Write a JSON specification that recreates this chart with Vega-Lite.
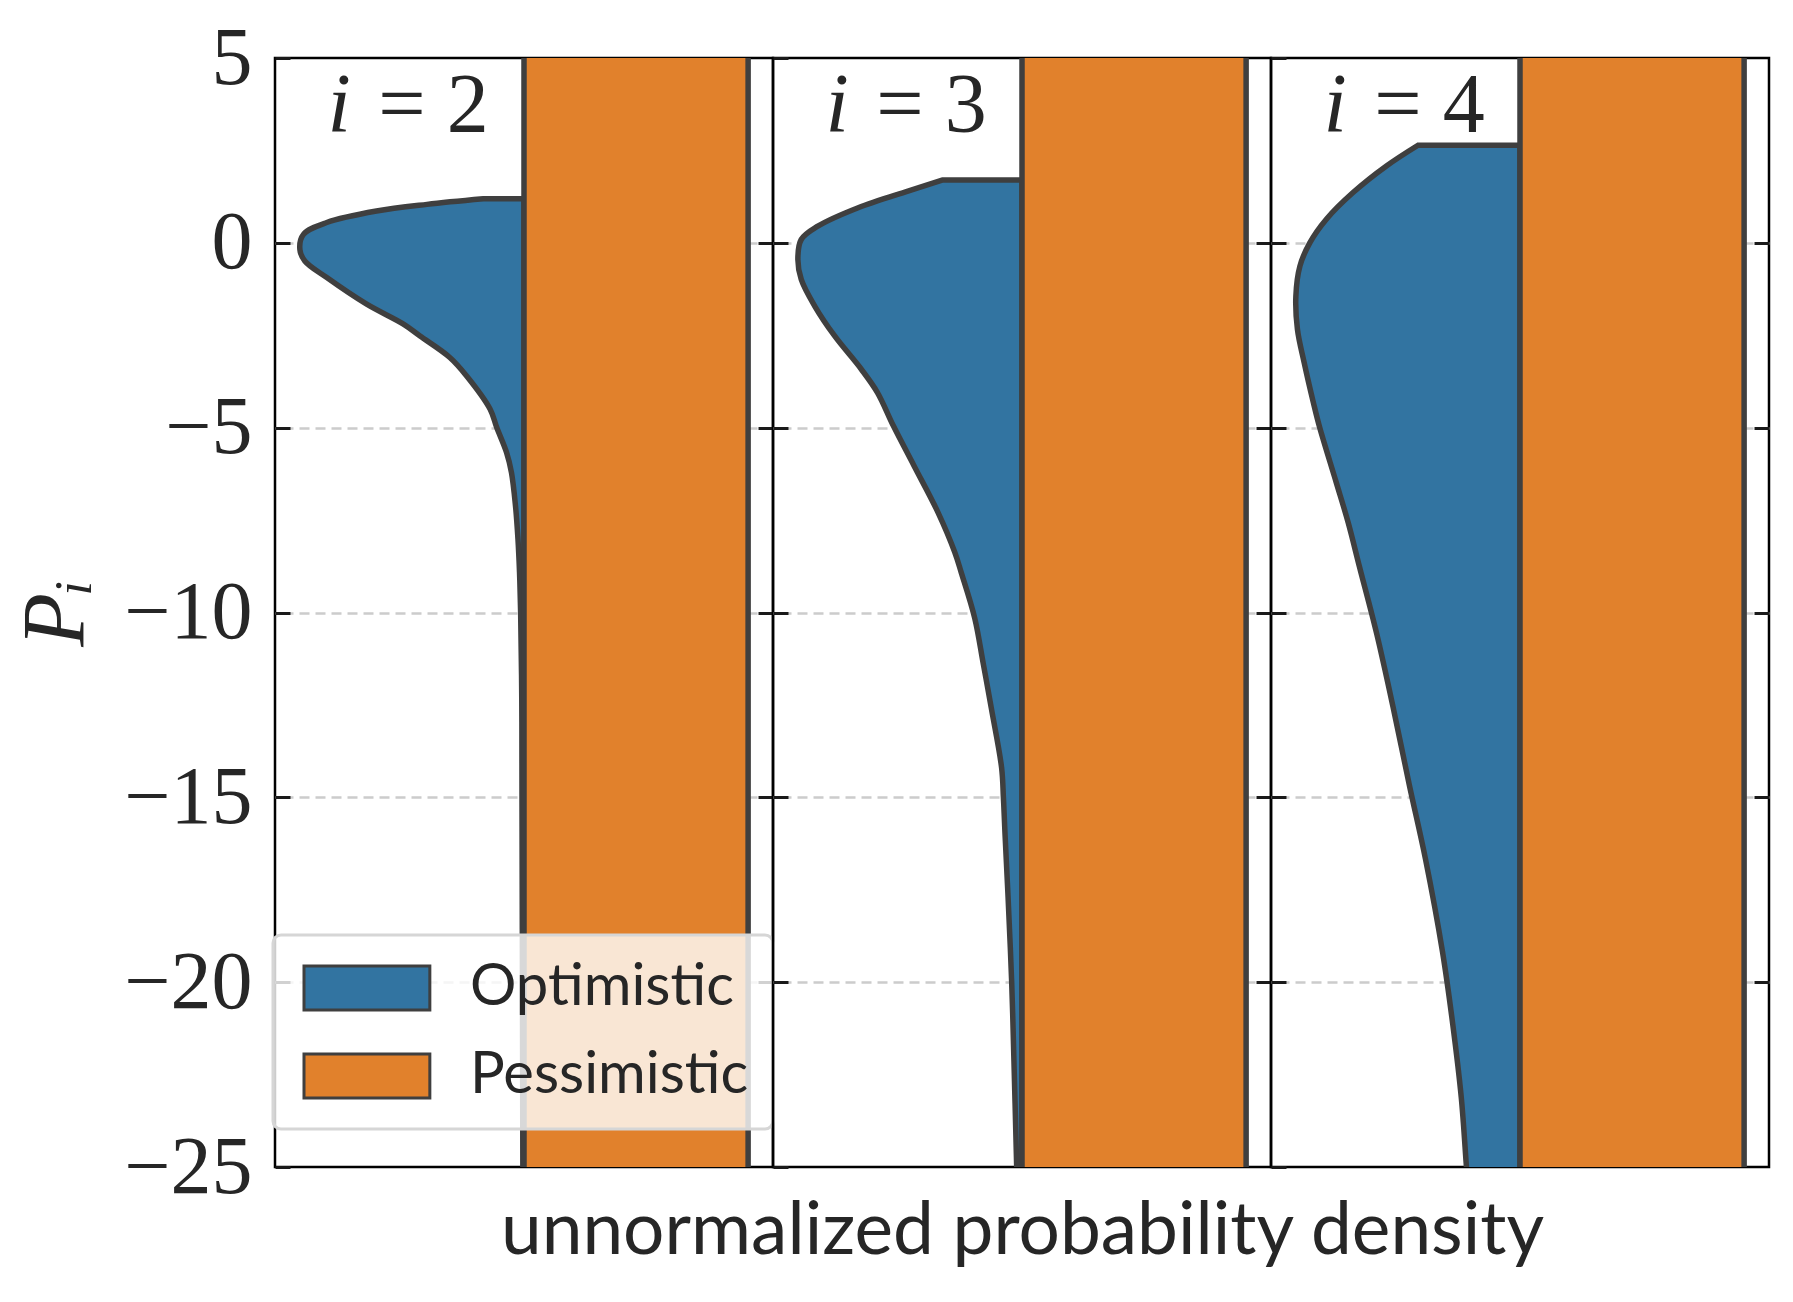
{
  "$schema": "https://vega.github.io/schema/vega-lite/v6.json",
  "background": "white",
  "padding": {"left": 11, "top": 15, "right": 22, "bottom": 30},
  "spacing": 0,
  "bounds": "flush",
  "datasets": {
    "opt": [
      {"panel": "2", "hue": "Optimistic", "P": 1.19, "density": 0.182},
      {"panel": "2", "hue": "Optimistic", "P": 1.04, "density": 0.433},
      {"panel": "2", "hue": "Optimistic", "P": 0.86, "density": 0.658},
      {"panel": "2", "hue": "Optimistic", "P": 0.55, "density": 0.880},
      {"panel": "2", "hue": "Optimistic", "P": 0.23, "density": 0.984},
      {"panel": "2", "hue": "Optimistic", "P": -0.18, "density": 1.0},
      {"panel": "2", "hue": "Optimistic", "P": -0.49, "density": 0.978},
      {"panel": "2", "hue": "Optimistic", "P": -0.94, "density": 0.880},
      {"panel": "2", "hue": "Optimistic", "P": -1.66, "density": 0.702},
      {"panel": "2", "hue": "Optimistic", "P": -2.20, "density": 0.538},
      {"panel": "2", "hue": "Optimistic", "P": -2.52, "density": 0.464},
      {"panel": "2", "hue": "Optimistic", "P": -3.10, "density": 0.331},
      {"panel": "2", "hue": "Optimistic", "P": -3.60, "density": 0.256},
      {"panel": "2", "hue": "Optimistic", "P": -4.50, "density": 0.151},
      {"panel": "2", "hue": "Optimistic", "P": -4.99, "density": 0.122},
      {"panel": "2", "hue": "Optimistic", "P": -5.67, "density": 0.078},
      {"panel": "2", "hue": "Optimistic", "P": -6.21, "density": 0.056},
      {"panel": "2", "hue": "Optimistic", "P": -7.11, "density": 0.038},
      {"panel": "2", "hue": "Optimistic", "P": -8.01, "density": 0.027},
      {"panel": "2", "hue": "Optimistic", "P": -8.91, "density": 0.020},
      {"panel": "2", "hue": "Optimistic", "P": -10.0, "density": 0.015},
      {"panel": "2", "hue": "Optimistic", "P": -12.34, "density": 0.010},
      {"panel": "2", "hue": "Optimistic", "P": -15.0, "density": 0.009},
      {"panel": "2", "hue": "Optimistic", "P": -20.0, "density": 0.007},
      {"panel": "2", "hue": "Optimistic", "P": -25.5, "density": 0.005},
      {"panel": "3", "hue": "Optimistic", "P": 1.70, "density": 0.353},
      {"panel": "3", "hue": "Optimistic", "P": 1.40, "density": 0.509},
      {"panel": "3", "hue": "Optimistic", "P": 0.95, "density": 0.731},
      {"panel": "3", "hue": "Optimistic", "P": 0.45, "density": 0.911},
      {"panel": "3", "hue": "Optimistic", "P": 0.09, "density": 0.985},
      {"panel": "3", "hue": "Optimistic", "P": -0.45, "density": 1.0},
      {"panel": "3", "hue": "Optimistic", "P": -0.99, "density": 0.985},
      {"panel": "3", "hue": "Optimistic", "P": -1.71, "density": 0.925},
      {"panel": "3", "hue": "Optimistic", "P": -2.52, "density": 0.836},
      {"panel": "3", "hue": "Optimistic", "P": -3.42, "density": 0.717},
      {"panel": "3", "hue": "Optimistic", "P": -4.05, "density": 0.645},
      {"panel": "3", "hue": "Optimistic", "P": -4.95, "density": 0.574},
      {"panel": "3", "hue": "Optimistic", "P": -6.03, "density": 0.482},
      {"panel": "3", "hue": "Optimistic", "P": -7.29, "density": 0.375},
      {"panel": "3", "hue": "Optimistic", "P": -8.37, "density": 0.300},
      {"panel": "3", "hue": "Optimistic", "P": -8.92, "density": 0.271},
      {"panel": "3", "hue": "Optimistic", "P": -10.15, "density": 0.211},
      {"panel": "3", "hue": "Optimistic", "P": -11.38, "density": 0.173},
      {"panel": "3", "hue": "Optimistic", "P": -12.62, "density": 0.136},
      {"panel": "3", "hue": "Optimistic", "P": -14.2, "density": 0.091},
      {"panel": "3", "hue": "Optimistic", "P": -15.0, "density": 0.083},
      {"panel": "3", "hue": "Optimistic", "P": -15.96, "density": 0.076},
      {"panel": "3", "hue": "Optimistic", "P": -17.72, "density": 0.062},
      {"panel": "3", "hue": "Optimistic", "P": -20.01, "density": 0.046},
      {"panel": "3", "hue": "Optimistic", "P": -22.12, "density": 0.036},
      {"panel": "3", "hue": "Optimistic", "P": -24.94, "density": 0.024},
      {"panel": "3", "hue": "Optimistic", "P": -25.5, "density": 0.022},
      {"panel": "4", "hue": "Optimistic", "P": 2.64, "density": 0.455},
      {"panel": "4", "hue": "Optimistic", "P": 2.08, "density": 0.596},
      {"panel": "4", "hue": "Optimistic", "P": 1.36, "density": 0.745},
      {"panel": "4", "hue": "Optimistic", "P": 0.64, "density": 0.864},
      {"panel": "4", "hue": "Optimistic", "P": 0.0, "density": 0.938},
      {"panel": "4", "hue": "Optimistic", "P": -0.63, "density": 0.982},
      {"panel": "4", "hue": "Optimistic", "P": -1.44, "density": 1.0},
      {"panel": "4", "hue": "Optimistic", "P": -2.34, "density": 0.993},
      {"panel": "4", "hue": "Optimistic", "P": -3.24, "density": 0.963},
      {"panel": "4", "hue": "Optimistic", "P": -4.32, "density": 0.922},
      {"panel": "4", "hue": "Optimistic", "P": -4.99, "density": 0.894},
      {"panel": "4", "hue": "Optimistic", "P": -6.48, "density": 0.820},
      {"panel": "4", "hue": "Optimistic", "P": -7.56, "density": 0.767},
      {"panel": "4", "hue": "Optimistic", "P": -8.77, "density": 0.716},
      {"panel": "4", "hue": "Optimistic", "P": -10.56, "density": 0.640},
      {"panel": "4", "hue": "Optimistic", "P": -12.54, "density": 0.567},
      {"panel": "4", "hue": "Optimistic", "P": -14.69, "density": 0.493},
      {"panel": "4", "hue": "Optimistic", "P": -16.66, "density": 0.422},
      {"panel": "4", "hue": "Optimistic", "P": -19.17, "density": 0.346},
      {"panel": "4", "hue": "Optimistic", "P": -21.14, "density": 0.300},
      {"panel": "4", "hue": "Optimistic", "P": -23.12, "density": 0.262},
      {"panel": "4", "hue": "Optimistic", "P": -24.91, "density": 0.240},
      {"panel": "4", "hue": "Optimistic", "P": -25.5, "density": 0.233}
    ],
    "pess": [
      {"panel": "2", "hue": "Pessimistic", "lo": -26, "hi": 6, "density": 1.0},
      {"panel": "3", "hue": "Pessimistic", "lo": -26, "hi": 6, "density": 1.0},
      {"panel": "4", "hue": "Pessimistic", "lo": -26, "hi": 6, "density": 1.0}
    ],
    "lab": [
      {"panel": "2", "sym": "i", "eq": "= 2"},
      {"panel": "3", "sym": "i", "eq": "= 3"},
      {"panel": "4", "sym": "i", "eq": "= 4"}
    ]
  },
  "hconcat": [
    {
      "width": 498, "height": 1109,
      "resolve": {"scale": {"x": "independent"}, "axis": {"y": "independent", "x": "independent"}},
      "layer": [
        {
          "data": {"name": "opt"},
          "transform": [{"filter": "datum.panel === '2'"}],
          "mark": {"type": "area", "orient": "horizontal", "interpolate": "catmull-rom", "clip": true, "stroke": "#3f3f3f", "strokeWidth": 5.5, "opacity": 1, "fillOpacity": 1},
          "encoding": {
            "y": {"field": "P", "type": "quantitative", "scale": {"domain": [-25, 5], "nice": false, "zero": false},
              "axis": {"orient": "left", "values": [-25, -20, -15, -10, -5, 0, 5], "tickSize": 15, "offset": -15, "tickWidth": 3, "tickColor": "#1a1a1a", "domain": false, "grid": false,
                "labels": true, "labelFont": "Liberation Serif", "labelFontSize": 82, "labelColor": "#262626", "labelPadding": 23,
                "title": "Pᵢ", "titleFont": "Liberation Serif", "titleFontStyle": "italic", "titleFontWeight": "normal", "titleFontSize": 88, "titleColor": "#262626", "titlePadding": 23}},
            "x": {"field": "density", "type": "quantitative", "stack": null, "scale": {"domain": [-1.111, 1.111], "reverse": true}, "axis": null},
            "x2": {"datum": 0},
            "color": {"field": "hue", "type": "nominal", "scale": {"domain": ["Optimistic", "Pessimistic"], "range": ["#3274a1", "#e1812c"]},
              "legend": {"orient": "none", "legendX": -2, "legendY": 877, "title": null, "symbolType": "M-1,-1H4.72V1H-1Z", "symbolSize": 1936,
                "symbolStrokeColor": "#3f3f3f", "symbolStrokeWidth": 3, "symbolOpacity": 1, "labelFont": "Lato", "labelFontSize": 58, "labelColor": "#262626", "labelLimit": 500,
                "labelOffset": 115, "padding": 24, "rowPadding": 30, "fillColor": "rgba(255,255,255,0.8)", "strokeColor": "#d6d6d6", "cornerRadius": 8}}
          }
        },
        {
          "data": {"name": "pess"},
          "transform": [{"filter": "datum.panel === '2'"}],
          "mark": {"type": "rect", "clip": true, "stroke": "#3f3f3f", "strokeWidth": 5.5, "opacity": 1, "fillOpacity": 1},
          "encoding": {
            "y": {"field": "lo", "type": "quantitative", "scale": {"domain": [-25, 5], "nice": false, "zero": false},
              "axis": {"orient": "right", "values": [-20, -15, -10, -5, 0], "tickSize": 15, "offset": -15, "tickWidth": 3, "tickColor": "#1a1a1a", "domain": false,
                "grid": true, "gridDash": [10, 6], "gridColor": "#cccccc", "gridWidth": 2.5, "labels": false, "title": null}},
            "y2": {"field": "hi"},
            "x": {"field": "density", "type": "quantitative", "scale": {"domain": [-1.111, 1.111]}, "axis": null},
            "x2": {"datum": 0},
            "color": {"field": "hue", "type": "nominal", "scale": {"domain": ["Optimistic", "Pessimistic"], "range": ["#3274a1", "#e1812c"]}}
          }
        },
        {
          "data": {"name": "lab"},
          "transform": [{"filter": "datum.panel === '2'"}],
          "mark": {"type": "text", "font": "Liberation Serif", "fontStyle": "italic", "fontSize": 84, "baseline": "alphabetic", "align": "center", "color": "#262626"},
          "encoding": {
            "x": {"datum": -0.825, "type": "quantitative", "scale": {"domain": [-1.111, 1.111]}, "axis": null},
            "y": {"datum": 3.0, "type": "quantitative", "scale": {"domain": [-25, 5], "nice": false, "zero": false}, "axis": null},
            "text": {"field": "sym"}
          }
        },
        {
          "data": {"name": "lab"},
          "transform": [{"filter": "datum.panel === '2'"}],
          "mark": {"type": "text", "font": "Liberation Serif", "fontSize": 84, "baseline": "alphabetic", "align": "left", "color": "#262626"},
          "encoding": {
            "x": {"datum": -0.65, "type": "quantitative", "scale": {"domain": [-1.111, 1.111]}, "axis": null},
            "y": {"datum": 3.0, "type": "quantitative", "scale": {"domain": [-25, 5], "nice": false, "zero": false}, "axis": null},
            "text": {"field": "eq"}
          }
        }
      ]
    },
    {
      "width": 498, "height": 1109,
      "resolve": {"scale": {"x": "independent"}, "axis": {"y": "independent", "x": "independent"}},
      "layer": [
        {
          "data": {"name": "opt"},
          "transform": [{"filter": "datum.panel === '3'"}],
          "mark": {"type": "area", "orient": "horizontal", "interpolate": "catmull-rom", "clip": true, "stroke": "#3f3f3f", "strokeWidth": 5.5, "opacity": 1, "fillOpacity": 1},
          "encoding": {
            "y": {"field": "P", "type": "quantitative", "scale": {"domain": [-25, 5], "nice": false, "zero": false},
              "axis": {"orient": "left", "values": [-25, -20, -15, -10, -5, 0, 5], "tickSize": 15, "offset": -15, "tickWidth": 3, "tickColor": "#1a1a1a", "domain": false, "grid": false, "labels": false, "title": null}},
            "x": {"field": "density", "type": "quantitative", "stack": null, "scale": {"domain": [-1.111, 1.111], "reverse": true}, "axis": null},
            "x2": {"datum": 0},
            "color": {"field": "hue", "type": "nominal", "scale": {"domain": ["Optimistic", "Pessimistic"], "range": ["#3274a1", "#e1812c"]}, "legend": null}
          }
        },
        {
          "data": {"name": "pess"},
          "transform": [{"filter": "datum.panel === '3'"}],
          "mark": {"type": "rect", "clip": true, "stroke": "#3f3f3f", "strokeWidth": 5.5, "opacity": 1, "fillOpacity": 1},
          "encoding": {
            "y": {"field": "lo", "type": "quantitative", "scale": {"domain": [-25, 5], "nice": false, "zero": false},
              "axis": {"orient": "right", "values": [-20, -15, -10, -5, 0], "tickSize": 15, "offset": -15, "tickWidth": 3, "tickColor": "#1a1a1a", "domain": false,
                "grid": true, "gridDash": [10, 6], "gridColor": "#cccccc", "gridWidth": 2.5, "labels": false, "title": null}},
            "y2": {"field": "hi"},
            "x": {"field": "density", "type": "quantitative", "scale": {"domain": [-1.111, 1.111]},
              "axis": {"title": "unnormalized probability density", "orient": "bottom", "ticks": false, "labels": false, "domain": false, "grid": false,
                "titleFont": "Lato", "titleFontSize": 73, "titleFontWeight": "normal", "titleColor": "#262626", "titlePadding": 28}},
            "x2": {"datum": 0},
            "color": {"field": "hue", "type": "nominal", "scale": {"domain": ["Optimistic", "Pessimistic"], "range": ["#3274a1", "#e1812c"]}, "legend": null}
          }
        },
        {
          "data": {"name": "lab"},
          "transform": [{"filter": "datum.panel === '3'"}],
          "mark": {"type": "text", "font": "Liberation Serif", "fontStyle": "italic", "fontSize": 84, "baseline": "alphabetic", "align": "center", "color": "#262626"},
          "encoding": {
            "x": {"datum": -0.825, "type": "quantitative", "scale": {"domain": [-1.111, 1.111]}, "axis": null},
            "y": {"datum": 3.0, "type": "quantitative", "scale": {"domain": [-25, 5], "nice": false, "zero": false}, "axis": null},
            "text": {"field": "sym"}
          }
        },
        {
          "data": {"name": "lab"},
          "transform": [{"filter": "datum.panel === '3'"}],
          "mark": {"type": "text", "font": "Liberation Serif", "fontSize": 84, "baseline": "alphabetic", "align": "left", "color": "#262626"},
          "encoding": {
            "x": {"datum": -0.65, "type": "quantitative", "scale": {"domain": [-1.111, 1.111]}, "axis": null},
            "y": {"datum": 3.0, "type": "quantitative", "scale": {"domain": [-25, 5], "nice": false, "zero": false}, "axis": null},
            "text": {"field": "eq"}
          }
        }
      ]
    },
    {
      "width": 498, "height": 1109,
      "resolve": {"scale": {"x": "independent"}, "axis": {"y": "independent", "x": "independent"}},
      "layer": [
        {
          "data": {"name": "opt"},
          "transform": [{"filter": "datum.panel === '4'"}],
          "mark": {"type": "area", "orient": "horizontal", "interpolate": "catmull-rom", "clip": true, "stroke": "#3f3f3f", "strokeWidth": 5.5, "opacity": 1, "fillOpacity": 1},
          "encoding": {
            "y": {"field": "P", "type": "quantitative", "scale": {"domain": [-25, 5], "nice": false, "zero": false},
              "axis": {"orient": "left", "values": [-25, -20, -15, -10, -5, 0, 5], "tickSize": 15, "offset": -15, "tickWidth": 3, "tickColor": "#1a1a1a", "domain": false, "grid": false, "labels": false, "title": null}},
            "x": {"field": "density", "type": "quantitative", "stack": null, "scale": {"domain": [-1.111, 1.111], "reverse": true}, "axis": null},
            "x2": {"datum": 0},
            "color": {"field": "hue", "type": "nominal", "scale": {"domain": ["Optimistic", "Pessimistic"], "range": ["#3274a1", "#e1812c"]}, "legend": null}
          }
        },
        {
          "data": {"name": "pess"},
          "transform": [{"filter": "datum.panel === '4'"}],
          "mark": {"type": "rect", "clip": true, "stroke": "#3f3f3f", "strokeWidth": 5.5, "opacity": 1, "fillOpacity": 1},
          "encoding": {
            "y": {"field": "lo", "type": "quantitative", "scale": {"domain": [-25, 5], "nice": false, "zero": false},
              "axis": {"orient": "right", "values": [-20, -15, -10, -5, 0], "tickSize": 15, "offset": -15, "tickWidth": 3, "tickColor": "#1a1a1a", "domain": false,
                "grid": true, "gridDash": [10, 6], "gridColor": "#cccccc", "gridWidth": 2.5, "labels": false, "title": null}},
            "y2": {"field": "hi"},
            "x": {"field": "density", "type": "quantitative", "scale": {"domain": [-1.111, 1.111]}, "axis": null},
            "x2": {"datum": 0},
            "color": {"field": "hue", "type": "nominal", "scale": {"domain": ["Optimistic", "Pessimistic"], "range": ["#3274a1", "#e1812c"]}, "legend": null}
          }
        },
        {
          "data": {"name": "lab"},
          "transform": [{"filter": "datum.panel === '4'"}],
          "mark": {"type": "text", "font": "Liberation Serif", "fontStyle": "italic", "fontSize": 84, "baseline": "alphabetic", "align": "center", "color": "#262626"},
          "encoding": {
            "x": {"datum": -0.825, "type": "quantitative", "scale": {"domain": [-1.111, 1.111]}, "axis": null},
            "y": {"datum": 3.0, "type": "quantitative", "scale": {"domain": [-25, 5], "nice": false, "zero": false}, "axis": null},
            "text": {"field": "sym"}
          }
        },
        {
          "data": {"name": "lab"},
          "transform": [{"filter": "datum.panel === '4'"}],
          "mark": {"type": "text", "font": "Liberation Serif", "fontSize": 84, "baseline": "alphabetic", "align": "left", "color": "#262626"},
          "encoding": {
            "x": {"datum": -0.65, "type": "quantitative", "scale": {"domain": [-1.111, 1.111]}, "axis": null},
            "y": {"datum": 3.0, "type": "quantitative", "scale": {"domain": [-25, 5], "nice": false, "zero": false}, "axis": null},
            "text": {"field": "eq"}
          }
        }
      ]
    }
  ],
  "resolve": {"scale": {"x": "independent", "y": "independent", "color": "independent"}, "legend": {"color": "independent"}},
  "config": {
    "view": {"stroke": "#000000", "strokeWidth": 2.5},
    "axis": {"zindex": 0},
    "legend": {"strokeWidth": 3}
  }
}
